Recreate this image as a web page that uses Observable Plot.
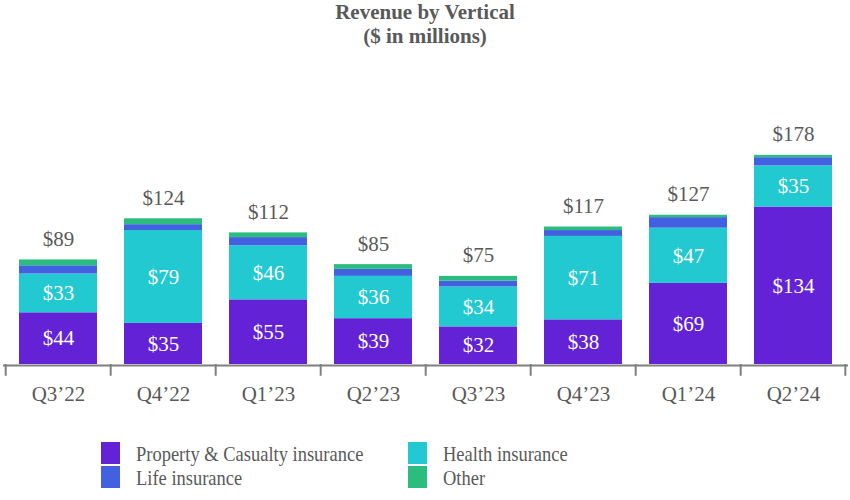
<!DOCTYPE html>
<html>
<head>
<meta charset="utf-8">
<script src="https://cdn.jsdelivr.net/npm/d3@7"></script>
<script src="https://cdn.jsdelivr.net/npm/@observablehq/plot@0.6"></script>
<style>
  body { margin: 0; background: #fff; }
  #wrap { position: relative; width: 850px; height: 500px; font-family: "Liberation Serif", "Times New Roman", serif; color: #595959; }
  #title { height: 50px; text-align: center; font-weight: bold; font-size: 21px; line-height: 24px; }
  #chart svg { display: block; }
  .lg { position: absolute; font-size: 22px; line-height: 22px; color: #595959; white-space: nowrap; transform: scaleX(0.84); transform-origin: left center; }
  .sw { position: absolute; width: 19px; height: 22px; }
</style>
</head>
<body>
<div id="wrap">
  <div id="title">Revenue by Vertical<br>($ in millions)</div>
  <div id="chart"></div>
  <div id="legend"></div>
</div>
<script>
const quarters = ["Q3’22", "Q4’22", "Q1’23", "Q2’23", "Q3’23", "Q4’23", "Q1’24", "Q2’24"];
const seriesNames = ["Property & Casualty insurance", "Health insurance", "Life insurance", "Other"];
const pc     = [44, 35, 55, 39, 32, 38, 69, 134];
const health = [33, 79, 46, 36, 34, 71, 47, 35];
const life   = [7, 5, 7, 6, 5, 5, 9, 7];
const other  = [5, 5, 4, 4, 4, 3, 2, 2];
const totals = [89, 124, 112, 85, 75, 117, 127, 178];
const colors = ["#6322d6", "#22c9d1", "#4161e0", "#2bbd7e"];
const labeled = [true, true, false, false];

const seriesValues = [pc, health, life, other];
const rows = [];
seriesNames.forEach((s, si) => {
  quarters.forEach((q, qi) => rows.push({quarter: q, series: s, value: seriesValues[si][qi], labeled: labeled[si]}));
});
const totalRows = quarters.map((q, i) => ({quarter: q, total: totals[i]}));

const W = 850, H = 370, mL = 3, mR = 2;
const step = (W - mL - mR) / quarters.length;

const chart = Plot.plot({
  width: W,
  height: H,
  marginLeft: mL,
  marginRight: mR,
  marginTop: 79,
  marginBottom: 56,
  style: {fontFamily: "'Liberation Serif', 'Times New Roman', serif", background: "#fff"},
  x: {domain: quarters, paddingInner: 0.26, paddingOuter: 0.13, axis: null},
  y: {domain: [0, 200], axis: null},
  color: {domain: seriesNames, range: colors},
  marks: [
    Plot.barY(rows, {x: "quarter", y: "value", fill: "series", order: seriesNames}),
    Plot.text(rows.filter(d => d.labeled), Plot.stackY({
      x: "quarter", y: "value", z: "series", order: seriesNames,
      text: d => "$" + d.value, fill: "#fff", fontSize: 21
    })),
    Plot.text(totalRows, {x: "quarter", y: "total", text: d => "$" + d.total, lineAnchor: "bottom", dy: -14, fill: "#595959", fontSize: 21}),
    Plot.ruleY([0], {stroke: "#7f7f7f", strokeWidth: 2, dy: 1}),
    Plot.ruleX(quarters, {x: d => d, y1: 0, y2: -10, dx: -step / 2, stroke: "#7f7f7f", strokeWidth: 2}),
    Plot.ruleX([quarters[quarters.length - 1]], {x: d => d, y1: 0, y2: -10, dx: step / 2 - 1, stroke: "#7f7f7f", strokeWidth: 2}),
    Plot.axisX({tickSize: 0, tickPadding: 22, fontSize: 21, fill: "#595959", label: null})
  ]
});
document.getElementById("chart").appendChild(chart);

const legend = document.getElementById("legend");
const legendPos = [[101, 442], [408, 442], [101, 466], [408, 466]];
seriesNames.forEach((s, i) => {
  const [lx, ly] = legendPos[i];
  const sw = document.createElement("div");
  sw.className = "sw";
  sw.style.left = lx + "px"; sw.style.top = ly + "px"; sw.style.background = colors[i];
  legend.appendChild(sw);
  const t = document.createElement("div");
  t.className = "lg";
  t.style.left = (lx + 35) + "px"; t.style.top = (ly + 1) + "px";
  t.textContent = s;
  legend.appendChild(t);
});
</script>
</body>
</html>
